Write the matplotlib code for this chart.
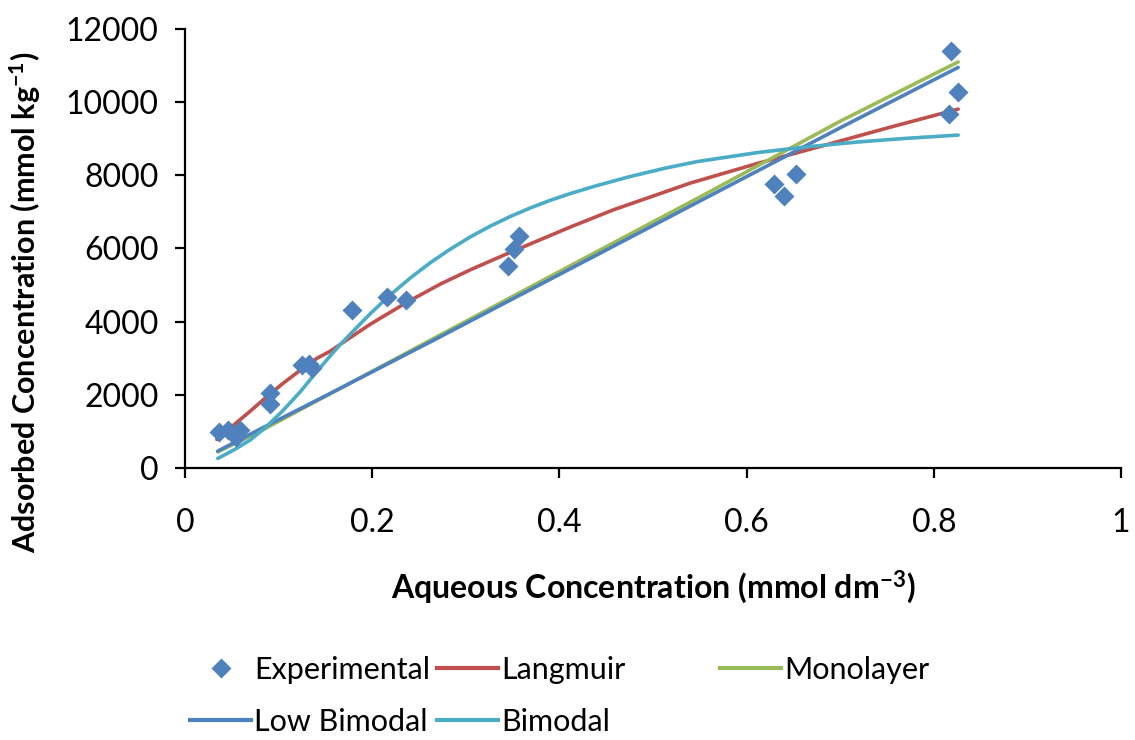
import matplotlib.pyplot as plt
from matplotlib.lines import Line2D

plt.rcParams['font.family'] = ['Lato', 'DejaVu Sans']
plt.rcParams['mathtext.default'] = 'regular'

# experimental points
exp_x = [0.036, 0.046, 0.054, 0.059, 0.091, 0.091, 0.125, 0.132, 0.136, 0.178, 0.216, 0.236,
         0.345, 0.351, 0.357, 0.629, 0.640, 0.653, 0.816, 0.818, 0.826]
exp_y = [990, 1040, 860, 1040, 2040, 1750, 2810, 2850, 2720, 4310, 4670, 4600,
         5510, 5990, 6330, 7760, 7430, 8040, 9670, 11400, 10280]

# fitted curves
lang_x = [0.034, 0.05, 0.07, 0.087, 0.105, 0.123, 0.141, 0.155, 0.178, 0.198, 0.237, 0.273,
          0.305, 0.348, 0.412, 0.458, 0.512, 0.54, 0.611, 0.683, 0.754, 0.826]
lang_y = [780, 1130, 1560, 1940, 2320, 2670, 3000, 3190, 3590, 3930, 4530, 5030,
          5420, 5900, 6590, 7060, 7540, 7790, 8320, 8820, 9320, 9810]

mono_x = [0.035, 0.077, 0.15, 0.262, 0.40, 0.551, 0.70, 0.826]
mono_y = [440, 960, 1960, 3490, 5370, 7420, 9480, 11100]

lowbi_x = [0.035, 0.077, 0.15, 0.262, 0.40, 0.551, 0.70, 0.826]
lowbi_y = [460, 1020, 1970, 3445, 5290, 7310, 9300, 10950]

bi_x = [0.035, 0.052, 0.07, 0.087, 0.105, 0.123, 0.141, 0.155, 0.166, 0.177, 0.198, 0.219,
        0.241, 0.262, 0.283, 0.305, 0.326, 0.348, 0.369, 0.39, 0.412, 0.44, 0.476, 0.512,
        0.547, 0.611, 0.661, 0.718, 0.77, 0.826]
bi_y = [260, 490, 770, 1130, 1580, 2080, 2640, 3060, 3380, 3670, 4220, 4725,
        5200, 5610, 5975, 6320, 6610, 6880, 7110, 7315, 7505, 7720, 7970, 8190,
        8375, 8620, 8770, 8910, 9010, 9100]

blue = '#4F81BD'
red = '#C0504D'
green = '#9BBB59'
cyan = '#4BACC6'
fs = 23

fig = plt.figure(figsize=(11.35, 7.4), dpi=100)
ax = fig.add_axes([0.163, 0.3676, 0.8247, 0.5932])

lw = 2.6
ax.plot(lang_x, lang_y, color=red, lw=lw, solid_capstyle='round', solid_joinstyle='round')
ax.plot(mono_x, mono_y, color=green, lw=lw, solid_capstyle='round', solid_joinstyle='round')
ax.plot(lowbi_x, lowbi_y, color=blue, lw=lw, solid_capstyle='round', solid_joinstyle='round')
ax.plot(bi_x, bi_y, color=cyan, lw=lw, solid_capstyle='round', solid_joinstyle='round')
ax.plot(exp_x, exp_y, 'D', color=blue, ms=10, mec='none', zorder=5)

ax.set_xlim(0, 1)
ax.set_ylim(0, 12000)
ax.set_xticks([0, 0.2, 0.4, 0.6, 0.8, 1])
ax.set_xticklabels(['0', '0.2', '0.4', '0.6', '0.8', '1'])
ax.set_yticks(range(0, 12001, 2000))

for s in ['top', 'right']:
    ax.spines[s].set_visible(False)
for s in ['left', 'bottom']:
    ax.spines[s].set_linewidth(1.6)
ax.tick_params(axis='x', length=7, width=1.6, labelsize=fs, pad=22)
ax.tick_params(axis='y', length=7, width=1.6, labelsize=fs, pad=12)

ax.set_xlabel('Aqueous Concentration (mmol dm$^{-3}$)', fontsize=fs, fontweight='bold', labelpad=22)
ax.set_ylabel('Adsorbed Concentration (mmol kg$^{-1}$)', fontsize=22, fontweight='bold')
ax.yaxis.set_label_coords(-0.152, 0.377)

h_exp = Line2D([], [], ls='none', marker='D', color=blue, ms=10, mec='none')
h_lang = Line2D([], [], color=red, lw=3)
h_mono = Line2D([], [], color=green, lw=3)
h_low = Line2D([], [], color=blue, lw=3)
h_bi = Line2D([], [], color=cyan, lw=3)

kw = dict(frameon=False, fontsize=22, handlelength=2.0, handletextpad=0.1,
          labelspacing=0.78, loc='upper left', borderpad=0, borderaxespad=0)
top = 1 - 656 / 740
fig.legend([h_exp, h_low], ['Experimental', 'Low Bimodal'],
           bbox_to_anchor=(190 / 1135, top), **kw)
fig.legend([h_lang, h_bi], ['Langmuir', 'Bimodal'],
           bbox_to_anchor=(437 / 1135, top), **kw)
fig.legend([h_mono], ['Monolayer'],
           bbox_to_anchor=(720 / 1135, top), **kw)

fig.savefig('out.png', dpi=100)
